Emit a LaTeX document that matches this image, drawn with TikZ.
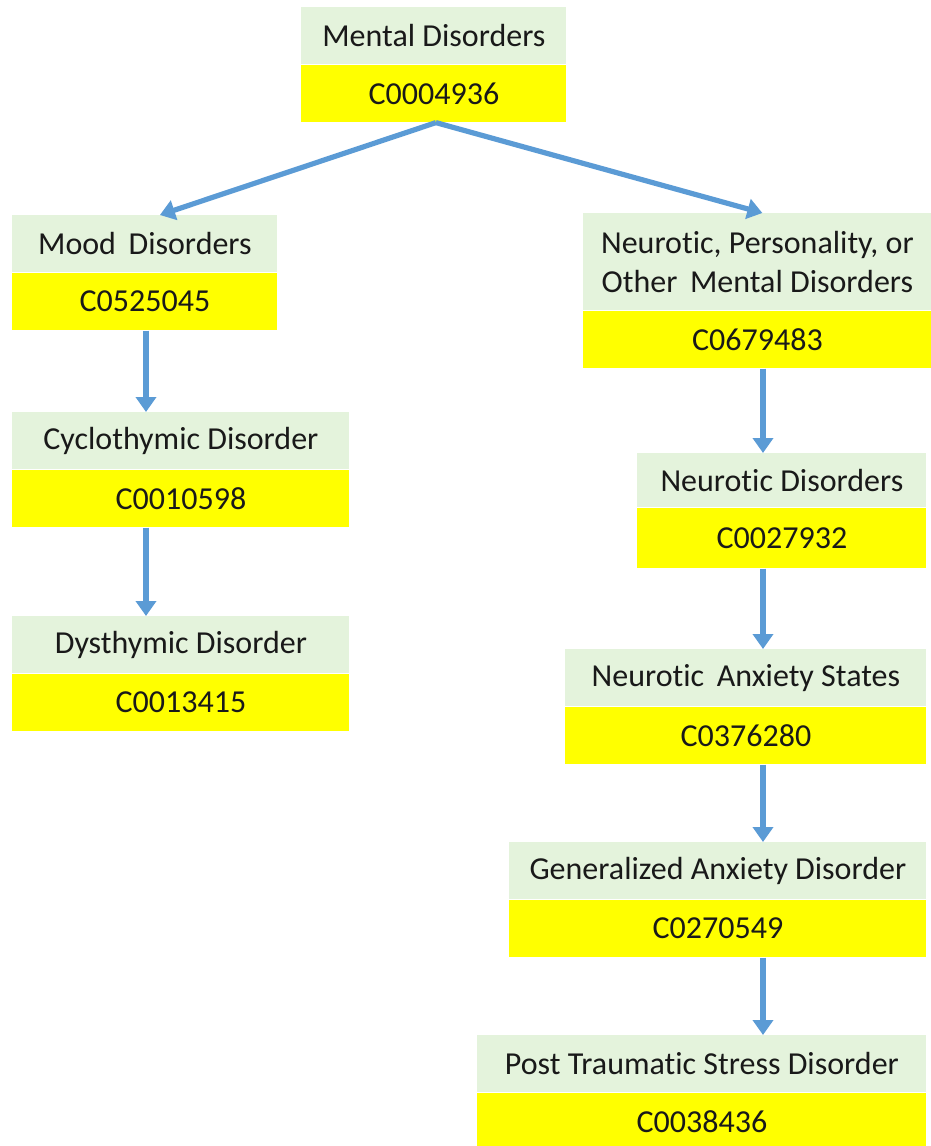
\documentclass[tikz,border=0pt]{standalone}
\usepackage{fontspec}
\setmainfont{Carlito}[Ligatures=NoCommon]
\usetikzlibrary{arrows.meta, positioning}
\definecolor{namegreen}{RGB}{228,243,220}
\definecolor{codeyellow}{RGB}{255,255,0}
\definecolor{linkblue}{RGB}{91,155,213}
\definecolor{inkgray}{RGB}{25,25,25}

\tikzset{
  namebox/.style={fill=namegreen, inner sep=0pt, anchor=north west, minimum height=28.5pt,
    align=center, text=inkgray, font=\fontsize{16}{19.5}\selectfont},
  codebox/.style={fill=codeyellow, inner sep=0pt, anchor=north, minimum height=28.5pt,
    text=inkgray, font=\fontsize{16}{19.5}\selectfont},
  link/.style={linkblue, line width=2.6pt, -{Triangle[width=10pt,length=7.5pt]}}
}

\begin{document}
\begin{tikzpicture}[x=0.5pt, y=-0.5pt]
  \useasboundingbox (0,0) rectangle (931,1146);

  % top
  \node[namebox, minimum width=132.5pt] (mental) at (301,7) {Mental Disorders};
  \node[codebox, minimum width=132.5pt, below=0pt of mental] (mentalid) {C0004936};

  % left branch
  \node[namebox, minimum width=132.5pt] (mood) at (12,215) {Mood\, Disorders};
  \node[codebox, minimum width=132.5pt, below=0pt of mood] (moodid) {C0525045};
  \node[namebox, minimum width=168.5pt] (cyclo) at (12,412) {Cyclothymic Disorder};
  \node[codebox, minimum width=168.5pt, below=0pt of cyclo] (cycloid) {C0010598};
  \node[namebox, minimum width=168.5pt] (dysth) at (12,616) {Dysthymic Disorder};
  \node[codebox, minimum width=168.5pt, below=0pt of dysth] (dysthid) {C0013415};

  % right branch
  \node[namebox, minimum width=174pt, minimum height=48.5pt] (npo) at (583,213)
    {Neurotic, Personality, or\\Other\, Mental Disorders};
  \node[codebox, minimum width=174pt, below=0pt of npo] (npoid) {C0679483};
  \node[namebox, minimum width=144.5pt, minimum height=27pt] (neur) at (637,453) {Neurotic Disorders};
  \node[codebox, minimum width=144.5pt, minimum height=30pt, below=0pt of neur] (neurid) {C0027932};
  \node[namebox, minimum width=180.5pt] (anxst) at (565,649) {Neurotic\, Anxiety States};
  \node[codebox, minimum width=180.5pt, below=0pt of anxst] (anxstid) {C0376280};
  \node[namebox, minimum width=208.5pt] (gad) at (509,842) {Generalized Anxiety Disorder};
  \node[codebox, minimum width=208.5pt, below=0pt of gad] (gadid) {C0270549};
  \node[namebox, minimum width=224.5pt] (ptsd) at (477,1035) {Post Traumatic Stress Disorder};
  \node[codebox, minimum width=224.5pt, below=0pt of ptsd] (ptsdid) {C0038436};

  \coordinate (lspine) at (146,0);
  \coordinate (rspine) at (763,0);

  % arrows
  \draw[link] ([xshift=1pt]mentalid.south) -- ([xshift=7.5pt]mood.north);
  \draw[link] ([xshift=1pt]mentalid.south) -- ([xshift=2.5pt]npo.north);
  \foreach \a/\b in {moodid/cyclo, cycloid/dysth} {
    \draw[link] (\a.south -| lspine) -- (\b.north -| lspine);
  }
  \foreach \a/\b in {npoid/neur, neurid/anxst, anxstid/gad, gadid/ptsd} {
    \draw[link] (\a.south -| rspine) -- (\b.north -| rspine);
  }
\end{tikzpicture}
\end{document}
